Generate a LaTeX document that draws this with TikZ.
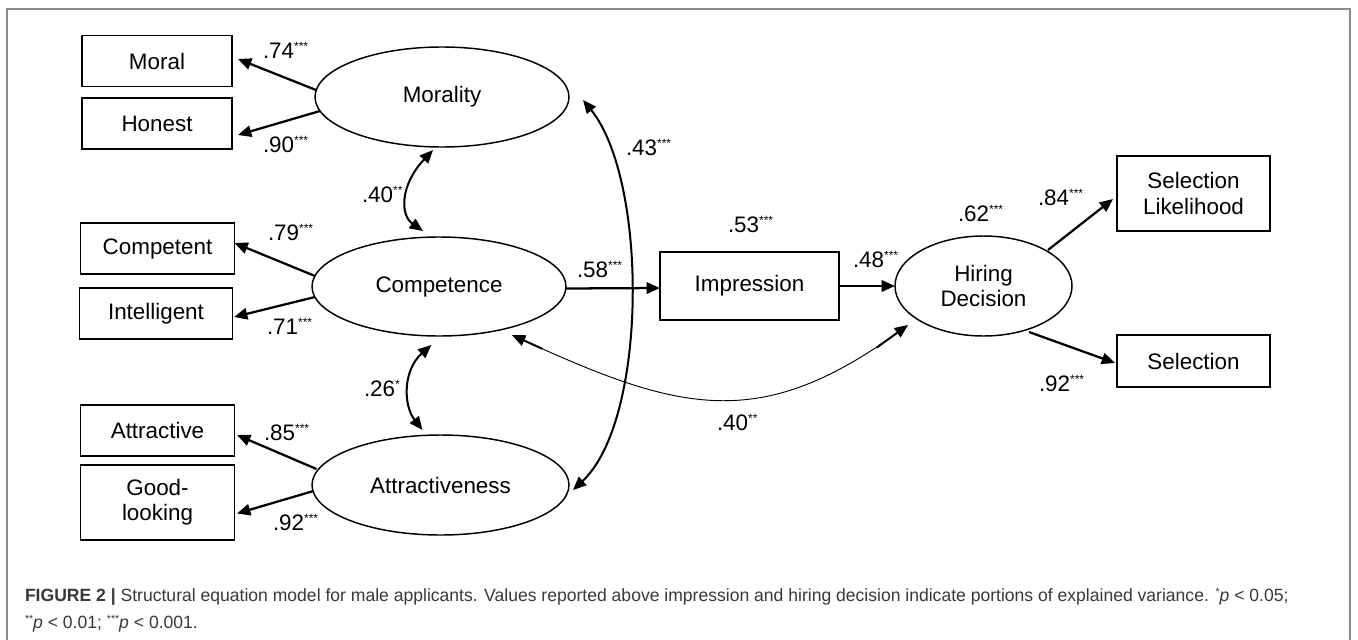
\documentclass[tikz,border=0pt]{standalone}
\usepackage{fontspec}
\setmainfont{Liberation Sans}
\newfontfamily\capfont[FakeStretch=0.99]{Liberation Sans}
\usetikzlibrary{arrows.meta,shapes.geometric,calc}
\newcommand\sstar[1]{\raisebox{5.5pt}{\fontsize{9}{9}\selectfont #1}}
\newcommand\cstar[1]{\raisebox{4pt}{\fontsize{8}{8}\selectfont #1}}
\begin{document}
\begin{tikzpicture}[x=0.75pt,y=-0.75pt,
  every node/.style={font=\fontsize{16.8}{19}\selectfont, inner sep=0pt, outer sep=0pt},
  obs/.style={draw, line width=1.1pt, align=center},
  lat/.style={draw, ellipse, line width=1.1pt, align=center},
  pth/.style={line width=1.7pt, -{Triangle[length=10pt,width=8.5pt]}},
  cov/.style={line width=1.5pt, {Triangle[length=10pt,width=8.5pt]}-{Triangle[length=10pt,width=8.5pt]}},
  thincov/.style={line width=0.7pt, {Triangle[length=10pt,width=8.5pt]}-{Triangle[length=10pt,width=8.5pt]}},
  coef/.style={anchor=base west},
  capt/.style={anchor=base west, font=\capfont\fontsize{13.3}{21}\selectfont, text=black!78}
]
\useasboundingbox (0,0) rectangle (1358,639);
\draw[black!45, line width=1.1pt] (7,650) -- (7,9) -- (1350,9) -- (1350,650);

% latent variables
\node[lat, minimum width=190.5pt, minimum height=75pt] (mor) at (442,97) {Morality};
\node[lat, minimum width=190.5pt, minimum height=74.25pt] (com) at (439,286.5) {Competence};
\node[lat, minimum width=192.75pt, minimum height=75pt] (att) at (440.5,485) {Attractiveness};
\node[lat, minimum width=132.75pt, minimum height=75pt] (hir) at (983.5,286) {Hiring\\Decision};

% observed variables
\node[obs, minimum width=112.5pt, minimum height=38.25pt] (moral) at (157,61) {Moral};
\node[obs, minimum width=112.5pt, minimum height=38.25pt] (honest) at (157,123.5) {Honest};
\node[obs, minimum width=115.5pt, minimum height=38.25pt] (competent) at (157.5,248.5) {Competent};
\node[obs, minimum width=114.75pt, minimum height=38.25pt] (intel) at (156,313.5) {Intelligent};
\node[obs, minimum width=115.5pt, minimum height=38.25pt] (attr) at (157.5,430.5) {Attractive};
\node[obs, minimum width=115.5pt, minimum height=56.25pt] (good) at (157.5,502.5) {Good-\\looking};
\node[obs, minimum width=134.25pt, minimum height=51pt] (imp) at (749.5,286) {Impression};
\node[obs, minimum width=114.75pt, minimum height=56.25pt] (sellik) at (1193.5,193.5) {Selection\\Likelihood};
\node[obs, minimum width=114.75pt, minimum height=39pt] (sel) at (1193.5,361) {Selection};

% loadings and paths
\draw[pth] ($(mor)+(-126,-7)$) -- ($(moral)+(81,-2)$);
\draw[pth] ($(mor)+(-122,14)$) -- ($(honest)+(81,11.5)$);
\draw[pth] ($(com)+(-124,-10.5)$) -- ($(competent)+(77,-5.5)$);
\draw[pth] ($(com)+(-124,10.5)$) -- ($(intel)+(78,3.5)$);
\draw[pth] ($(att)+(-124,-16)$) -- ($(attr)+(79.5,4.5)$);
\draw[pth] ($(att)+(-127,6)$) -- ($(good)+(79.5,11)$);
\draw[pth] ($(com.east)+(0,2)$) -- ($(imp.west)+(0,2)$);
\draw[pth] (imp.east) -- (hir.west);
\draw[pth] ($(hir)+(64.5,-36)$) -- ($(sellik)+(-80.5,5.5)$);
\draw[pth] ($(hir)+(45.5,46)$) -- ($(sel)+(-78.5,2)$);

% covariances
\draw[cov] ($(mor)+(-9,53)$) .. controls +(-33,35) and +(-23,-16) .. ($(com)+(-16,-55.5)$);
\draw[cov] ($(com)+(-7.6,58.5)$) .. controls +(-28.4,25) and +(-19.5,-25) .. ($(att)+(-18,-55)$);
\draw[cov] ($(mor)+(141,3)$) .. controls +(65,80) and +(75,-70) .. ($(att)+(132.5,5)$);
\draw[thincov] ($(com)+(73,48.5)$) .. controls +(168,77) and +(-148,107) .. ($(hir)+(-75.5,39)$);
\draw[line width=1.5pt] ($(com)+(80.3,51.8)$) -- ++(23,10.5);
\draw[line width=1.5pt] ($(hir)+(-82,43.7)$) -- ++(-25,18);

% coefficients
\node[coef] (c74) at (263,58) {.74\sstar{***}};
\node[coef] (c90) at (263,152) {.90\sstar{***}};
\node[coef] (c79) at (268,240) {.79\sstar{***}};
\node[coef] (c71) at (267,334) {.71\sstar{***}};
\node[coef] (c85) at (264,440) {.85\sstar{***}};
\node[coef] (c92a) at (273,530) {.92\sstar{***}};
\node[coef] (c40a) at (362,202) {.40\sstar{**}};
\node[coef] (c26) at (364,396) {.26\sstar{*}};
\node[coef] (c43) at (626,155) {.43\sstar{***}};
\node[coef] (c58) at (577,277) {.58\sstar{***}};
\node[coef] (c53) at (728,232) {.53\sstar{***}};
\node[coef] (c48) at (853,267) {.48\sstar{***}};
\node[coef] (c62) at (958,221) {.62\sstar{***}};
\node[coef] (c84) at (1038,205) {.84\sstar{***}};
\node[coef] (c92b) at (1039,391) {.92\sstar{***}};
\node[coef] (c40b) at (717,430) {.40\sstar{**}};

% caption
\node[capt] (cap1) at (25,601) {\textbf{FIGURE 2 |} Structural equation model for male applicants. Values reported above impression and hiring decision indicate portions of explained variance. \cstar{*}\textit{p} < 0.05;};
\node[capt] (cap2) at (25,628) {\cstar{**}\textit{p} < 0.01; \cstar{***}\textit{p} < 0.001.};
\end{tikzpicture}
\end{document}
